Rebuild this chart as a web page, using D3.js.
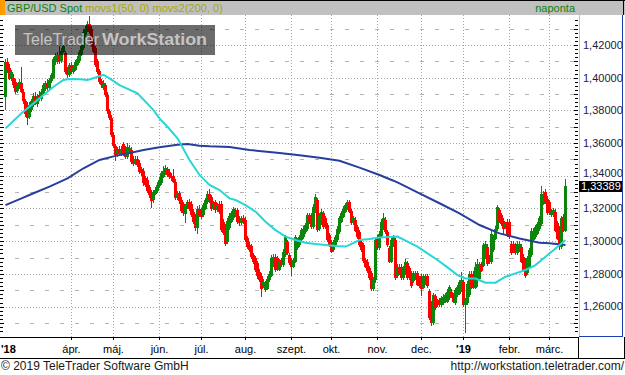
<!DOCTYPE html>
<html>
<head>
<meta charset="utf-8">
<script src="https://cdn.jsdelivr.net/npm/d3@7"></script>
<style>
  html, body { margin: 0; padding: 0; background: #fff; }
  svg { display: block; font-family: "Liberation Sans", Arial, sans-serif; }
</style>
</head>
<body>
<svg id="chart" width="625" height="375"></svg>
<script>
// daily GBP/USD candles, 14 Feb 2018 .. 13 Mar 2019 (weekdays)
var firstDay = '2018-02-14'

var open = [
  1.3880,1.4095,1.4060,1.3995,1.4000,1.3975,1.3920,1.3945,1.3970,1.3915,
  1.3855,1.3835,1.3760,1.3800,1.3835,1.3890,1.3840,1.3895,1.3870,1.3900,
  1.3930,1.3965,1.3935,1.3980,1.4000,1.4095,1.4095,1.4140,1.4100,1.4160,
  1.4150,1.4040,1.4015,1.4075,1.4035,1.4050,1.4080,1.4100,1.4140,1.4180,
  1.4260,1.4290,1.4330,1.4300,1.4220,1.4180,1.4100,1.4040,1.3980,1.3935,
  1.3955,1.3895,1.3795,1.3755,1.3650,1.3580,1.3535,1.3565,1.3535,1.3595,
  1.3565,1.3515,1.3555,1.3560,1.3505,1.3475,1.3505,1.3480,1.3440,1.3430,
  1.3385,1.3375,1.3330,1.3300,1.3250,1.3290,1.3305,1.3335,1.3355,1.3395,
  1.3415,1.3440,1.3425,1.3395,1.3400,1.3365,1.3265,1.3295,1.3255,1.3225,
  1.3165,1.3205,1.3240,1.3230,1.3180,1.3150,1.3080,1.3200,1.3190,1.3160,
  1.3200,1.3240,1.3290,1.3270,1.3200,1.3240,1.3190,1.3230,1.3230,1.3120,
  1.3090,1.2995,1.3080,1.3120,1.3140,1.3160,1.3190,1.3140,1.3110,1.3140,
  1.3130,1.3017,1.2977,1.2970,1.2915,1.2895,1.2865,1.2813,1.2790,1.2730,
  1.2700,1.2710,1.2760,1.2790,1.2850,1.2905,1.2895,1.2825,1.2885,1.2855,
  1.2915,1.2997,1.2915,1.2885,1.2845,1.2875,1.2957,1.2977,1.3007,1.3027,
  1.3057,1.3077,1.3160,1.3160,1.3087,1.3180,1.3250,1.3077,1.3110,1.3170,
  1.3140,1.3097,1.3037,1.2997,1.2947,1.2977,1.3007,1.3057,1.3120,1.3150,
  1.3180,1.3200,1.3240,1.3185,1.3110,1.3130,1.3085,1.3055,1.2997,1.2977,
  1.2885,1.2875,1.2835,1.2805,1.2705,1.2765,1.3027,1.2957,1.3030,1.3080,
  1.3130,1.3057,1.2957,1.2875,1.2977,1.3007,1.2785,1.2845,1.2845,1.2775,
  1.2805,1.2865,1.2835,1.2805,1.2755,1.2775,1.2805,1.2775,1.2785,1.2715,
  1.2745,1.2785,1.2695,1.2620,1.2500,1.2662,1.2630,1.2640,1.2610,1.2620,
  1.2630,1.2630,1.2650,1.2690,1.2670,1.2620,1.2670,1.2680,1.2700,1.2750,
  1.2610,1.2620,1.2670,1.2800,1.2800,1.2715,1.2760,1.2770,1.2860,1.2850,
  1.2900,1.2965,1.2900,1.2870,1.2945,1.3015,1.3075,1.3190,1.3160,1.3125,
  1.3085,1.3120,1.3120,1.2985,1.2985,1.2975,1.2925,1.2945,1.2965,1.2905,
  1.2885,1.2805,1.2845,1.2915,1.3005,1.3025,1.3045,1.3075,1.3105,1.3230,
  1.3300,1.3260,1.3240,1.3160,1.3160,1.3180,1.3110,1.3075,1.2965,1.3150,1.3065
]
var high = [
  1.4115,1.4120,1.4085,1.4050,1.4020,1.3990,1.3965,1.3995,1.4065,1.3930,
  1.3870,1.3850,1.3850,1.3870,1.3905,1.3915,1.3900,1.3920,1.3930,1.3970,
  1.3980,1.3990,1.4000,1.4030,1.4125,1.4150,1.4155,1.4195,1.4180,1.4215,
  1.4165,1.4065,1.4090,1.4095,1.4075,1.4110,1.4130,1.4170,1.4210,1.4295,
  1.4315,1.4345,1.4377,1.4315,1.4235,1.4195,1.4115,1.4055,1.3995,1.3985,
  1.3970,1.3910,1.3810,1.3770,1.3665,1.3595,1.3575,1.3580,1.3585,1.3605,
  1.3580,1.3598,1.3590,1.3575,1.3520,1.3520,1.3520,1.3495,1.3455,1.3445,
  1.3400,1.3390,1.3345,1.3315,1.3315,1.3330,1.3360,1.3390,1.3430,1.3460,
  1.3465,1.3455,1.3440,1.3415,1.3440,1.3380,1.3310,1.3310,1.3270,1.3240,
  1.3230,1.3255,1.3260,1.3245,1.3195,1.3165,1.3215,1.3220,1.3205,1.3235,
  1.3265,1.3305,1.3320,1.3285,1.3245,1.3255,1.3235,1.3245,1.3245,1.3135,
  1.3105,1.3140,1.3170,1.3185,1.3210,1.3205,1.3205,1.3155,1.3155,1.3160,
  1.3145,1.3030,1.2995,1.2985,1.2930,1.2910,1.2880,1.2830,1.2805,1.2770,
  1.2755,1.2785,1.2815,1.2915,1.2920,1.2920,1.2910,1.2890,1.2900,1.2950,
  1.3040,1.3010,1.2930,1.2900,1.2900,1.3040,1.3020,1.3040,1.3080,1.3090,
  1.3110,1.3175,1.3175,1.3175,1.3225,1.3290,1.3265,1.3175,1.3195,1.3185,
  1.3155,1.3110,1.3050,1.3010,1.3010,1.3040,1.3090,1.3155,1.3185,1.3215,
  1.3235,1.3255,1.3250,1.3200,1.3155,1.3145,1.3100,1.3070,1.3010,1.2990,
  1.2900,1.2890,1.2850,1.2820,1.2780,1.3020,1.3040,1.3060,1.3135,1.3170,
  1.3145,1.3070,1.2970,1.3020,1.3040,1.3020,1.2860,1.2860,1.2860,1.2850,
  1.2890,1.2880,1.2850,1.2820,1.2820,1.2820,1.2820,1.2790,1.2800,1.2800,
  1.2800,1.2800,1.2710,1.2635,1.2685,1.2675,1.2645,1.2655,1.2665,1.2675,
  1.2685,1.2705,1.2735,1.2705,1.2685,1.2715,1.2735,1.2765,1.2810,1.2765,
  1.2655,1.2755,1.2815,1.2815,1.2815,1.2870,1.2890,1.2875,1.2875,1.2990,
  1.3000,1.2980,1.2915,1.3060,1.3040,1.3090,1.3220,1.3205,1.3175,1.3140,
  1.3120,1.3135,1.3135,1.3000,1.3000,1.2990,1.3000,1.3000,1.2980,1.2920,
  1.2900,1.2910,1.2960,1.3080,1.3080,1.3100,1.3120,1.3155,1.3340,1.3305,
  1.3320,1.3275,1.3255,1.3195,1.3205,1.3195,1.3125,1.3090,1.3155,1.3165,1.3380
]
var low = [
  1.3800,1.4030,1.3985,1.3980,1.3940,1.3900,1.3905,1.3930,1.3905,1.3840,
  1.3760,1.3710,1.3745,1.3790,1.3820,1.3830,1.3820,1.3855,1.3860,1.3890,
  1.3920,1.3920,1.3925,1.3965,1.3990,1.4080,1.4085,1.4085,1.4090,1.4150,
  1.4020,1.4000,1.4005,1.4020,1.4020,1.4040,1.4070,1.4090,1.4130,1.4170,
  1.4250,1.4280,1.4270,1.4190,1.4150,1.4065,1.4025,1.3960,1.3940,1.3925,
  1.3880,1.3780,1.3740,1.3640,1.3570,1.3490,1.3515,1.3520,1.3520,1.3520,
  1.3500,1.3505,1.3545,1.3475,1.3460,1.3465,1.3455,1.3410,1.3400,1.3340,
  1.3330,1.3295,1.3265,1.3205,1.3235,1.3280,1.3295,1.3325,1.3345,1.3385,
  1.3405,1.3390,1.3380,1.3370,1.3355,1.3250,1.3250,1.3230,1.3170,1.3155,
  1.3110,1.3195,1.3185,1.3145,1.3105,1.3065,1.3045,1.3145,1.3135,1.3150,
  1.3190,1.3230,1.3235,1.3185,1.3190,1.3175,1.3180,1.3165,1.3055,1.3035,
  1.2970,1.2985,1.3070,1.3110,1.3130,1.3150,1.3105,1.3095,1.3100,1.3105,
  1.2995,1.2955,1.2935,1.2890,1.2860,1.2810,1.2770,1.2750,1.2660,1.2715,
  1.2690,1.2700,1.2750,1.2780,1.2840,1.2810,1.2815,1.2815,1.2845,1.2845,
  1.2905,1.2915,1.2855,1.2785,1.2835,1.2865,1.2945,1.2965,1.2995,1.3015,
  1.3045,1.3065,1.3105,1.3075,1.3075,1.3170,1.3055,1.3065,1.3100,1.3075,
  1.3075,1.2995,1.2965,1.2925,1.2935,1.2965,1.2995,1.3045,1.3110,1.3140,
  1.3170,1.3190,1.3170,1.3100,1.3100,1.3055,1.3015,1.2965,1.2935,1.2865,
  1.2835,1.2805,1.2765,1.2695,1.2695,1.2745,1.2945,1.2945,1.3020,1.3070,
  1.3045,1.2965,1.2865,1.2865,1.2965,1.2765,1.2775,1.2795,1.2765,1.2765,
  1.2795,1.2765,1.2765,1.2715,1.2745,1.2765,1.2725,1.2715,1.2665,1.2705,
  1.2735,1.2715,1.2520,1.2480,1.2490,1.2580,1.2600,1.2600,1.2600,1.2610,
  1.2620,1.2620,1.2640,1.2650,1.2620,1.2610,1.2660,1.2670,1.2690,1.2600,
  1.2438,1.2610,1.2660,1.2705,1.2710,1.2705,1.2720,1.2760,1.2810,1.2840,
  1.2890,1.2850,1.2860,1.2860,1.2935,1.3005,1.3065,1.3110,1.3095,1.3040,
  1.3075,1.3025,1.3015,1.2915,1.2925,1.2915,1.2915,1.2935,1.2865,1.2815,
  1.2775,1.2795,1.2835,1.2905,1.2995,1.3015,1.3035,1.3065,1.3095,1.3220,
  1.3230,1.3160,1.3160,1.3150,1.3150,1.3055,1.3005,1.2945,1.2955,1.3055,1.3055
]
var close = [
  1.4095,1.4045,1.3995,1.4035,1.3955,1.3915,1.3950,1.3975,1.3915,1.3855,
  1.3775,1.3755,1.3835,1.3855,1.3890,1.3840,1.3890,1.3870,1.3915,1.3955,
  1.3965,1.3935,1.3985,1.4015,1.4115,1.4135,1.4140,1.4100,1.4165,1.4195,
  1.4035,1.4015,1.4075,1.4035,1.4060,1.4095,1.4115,1.4155,1.4195,1.4280,
  1.4300,1.4330,1.4280,1.4200,1.4160,1.4075,1.4035,1.3975,1.3955,1.3965,
  1.3895,1.3795,1.3755,1.3650,1.3580,1.3530,1.3555,1.3535,1.3565,1.3535,
  1.3515,1.3575,1.3570,1.3485,1.3475,1.3505,1.3465,1.3425,1.3415,1.3355,
  1.3345,1.3310,1.3280,1.3245,1.3300,1.3315,1.3345,1.3375,1.3415,1.3430,
  1.3450,1.3405,1.3395,1.3385,1.3365,1.3265,1.3295,1.3245,1.3185,1.3170,
  1.3215,1.3240,1.3200,1.3160,1.3120,1.3080,1.3200,1.3160,1.3150,1.3220,
  1.3250,1.3290,1.3250,1.3200,1.3230,1.3190,1.3220,1.3180,1.3070,1.3048,
  1.2985,1.3125,1.3155,1.3170,1.3200,1.3190,1.3120,1.3110,1.3140,1.3120,
  1.3007,1.2967,1.2947,1.2905,1.2875,1.2825,1.2785,1.2763,1.2710,1.2750,
  1.2740,1.2770,1.2800,1.2900,1.2905,1.2825,1.2825,1.2875,1.2855,1.2935,
  1.3027,1.2925,1.2865,1.2845,1.2885,1.3027,1.3007,1.3027,1.3067,1.3077,
  1.3097,1.3160,1.3120,1.3087,1.3210,1.3270,1.3067,1.3160,1.3180,1.3087,
  1.3087,1.3007,1.2977,1.2937,1.2997,1.3027,1.3077,1.3140,1.3170,1.3200,
  1.3220,1.3240,1.3180,1.3110,1.3140,1.3065,1.3025,1.2977,1.2947,1.2877,
  1.2845,1.2815,1.2775,1.2705,1.2765,1.3007,1.2957,1.3047,1.3120,1.3140,
  1.3057,1.2977,1.2875,1.3007,1.3027,1.2775,1.2845,1.2805,1.2775,1.2835,
  1.2875,1.2775,1.2775,1.2725,1.2805,1.2805,1.2735,1.2725,1.2705,1.2785,
  1.2785,1.2725,1.2530,1.2500,1.2672,1.2590,1.2610,1.2610,1.2650,1.2660,
  1.2670,1.2690,1.2720,1.2660,1.2630,1.2700,1.2720,1.2750,1.2760,1.2610,
  1.2640,1.2740,1.2800,1.2715,1.2720,1.2840,1.2860,1.2860,1.2820,1.2975,
  1.2985,1.2860,1.2870,1.3045,1.3025,1.3075,1.3210,1.3120,1.3105,1.3075,
  1.3105,1.3035,1.3025,1.2925,1.2935,1.2925,1.2985,1.2985,1.2875,1.2825,
  1.2785,1.2895,1.2945,1.3065,1.3065,1.3085,1.3105,1.3140,1.3290,1.3290,
  1.3240,1.3170,1.3170,1.3180,1.3190,1.3065,1.3015,1.2965,1.3140,1.3065,1.33389
]

// movs1(50) and movs2(200), read at candle positions
var ma50At = [0, 8, 14, 19, 24, 29, 32, 37, 41, 45, 49, 52, 57, 66, 74, 77, 81, 86, 92, 97,
  102, 107, 112, 115, 120, 125, 130, 135, 140, 145, 150, 155, 160, 165, 170, 172, 177, 182,
  187, 196, 201, 206, 211, 216, 221, 226, 230, 235, 240, 245, 250, 255, 260, 265, 270, 275, 279, 280]
var ma50 = [1.3690, 1.3782, 1.3843, 1.3894, 1.3945, 1.3986, 1.3992, 1.3990, 1.3986, 1.4001,
  1.4017, 1.3996, 1.3955, 1.3904, 1.3802, 1.3751, 1.3700, 1.3629, 1.3497, 1.3405,
  1.3344, 1.3313, 1.3262, 1.3252, 1.3221, 1.3181, 1.3119, 1.3068, 1.3028, 1.3007,
  1.2991, 1.2983, 1.2977, 1.2971, 1.2967, 1.2977, 1.3007, 1.3013, 1.3023, 1.3028,
  1.2997, 1.2967, 1.2926, 1.2885, 1.2840, 1.2793, 1.2772, 1.2772, 1.2746, 1.2746,
  1.2783, 1.2803, 1.2824, 1.2854, 1.2905, 1.2956, 1.2997, 1.3007]

var ma200At = [0, 8, 14, 22, 31, 39, 47, 55, 61, 69, 77, 86, 91, 97, 102, 112, 122, 137,
  147, 157, 167, 177, 187, 194, 197, 207, 217, 227, 237, 247, 257, 267, 272, 280]
var ma200 = [1.3221, 1.3262, 1.3293, 1.3334, 1.3384, 1.3446, 1.3497, 1.3522, 1.3537, 1.3558,
  1.3574, 1.3590, 1.3594, 1.3584, 1.3580, 1.3576, 1.3558, 1.3540, 1.3525, 1.3510,
  1.3492, 1.3450, 1.3405, 1.3370, 1.3354, 1.3293, 1.3232, 1.3170, 1.3099, 1.3048,
  1.3017, 1.2991, 1.2987, 1.2977]

var monthNames = ['ápr.', 'máj.', 'jún.', 'júl.', 'aug.', 'szept.', 'okt.', 'nov.', 'dec.', "'19", 'febr.', 'márc.']
var monthStarts = ['2018-04-01', '2018-05-01', '2018-06-01', '2018-07-01', '2018-08-01', '2018-09-01',
  '2018-10-01', '2018-11-01', '2018-12-01', '2019-01-01', '2019-02-01', '2019-03-01']
var yTicks = [1.26, 1.28, 1.30, 1.32, 1.34, 1.36, 1.38, 1.40, 1.42]

var parse = d3.timeParse('%Y-%m-%d')
var dates = d3.timeDay
  .range(parse(firstDay), d3.timeDay.offset(parse(firstDay), 400))
  .filter(function (d) { return d.getDay() !== 0 && d.getDay() !== 6 })
  .slice(0, close.length)

var candles = close.map(function (c, i) {
  return { i: i, o: open[i], h: high[i], l: low[i], c: c }
})

var W = 625
var plotL = 0, plotR = 578, plotT = 15, plotB = 337

var x = d3.scaleLinear().domain([0, close.length - 1]).range([5, 5 + 2 * (close.length - 1)])
var y = d3.scaleLinear().domain([1.26, 1.42]).range([306.6, 45])

var svg = d3.select('#chart')

svg.append('defs').append('clipPath').attr('id', 'plotclip')
  .append('rect').attr('x', plotL).attr('y', plotT).attr('width', plotR - plotL).attr('height', plotB - plotT)

// header bar
svg.append('rect').attr('x', 0).attr('y', 0).attr('width', W).attr('height', 15).attr('fill', '#c0c0c0')
svg.append('rect').attr('x', 0).attr('y', 0).attr('width', 5).attr('height', 15).attr('fill', '#ff9a00')
svg.append('line').attr('x1', 5).attr('x2', W).attr('y1', 0.5).attr('y2', 0.5).attr('stroke', '#000')

var title = svg.append('text').attr('x', 7).attr('y', 12).style('font-size', '11px')
title.append('tspan').attr('fill', '#0a820a').text('GBP/USD Spot ')
title.append('tspan').attr('fill', '#a9a900').text('movs1(50, 0) movs2(200, 0)')
svg.append('text').attr('x', 575).attr('y', 12).attr('text-anchor', 'end')
  .style('font-size', '11px').attr('fill', '#0a820a').text('naponta')

var plot = svg.append('g').attr('clip-path', 'url(#plotclip)')

// horizontal grid
var minorLevels = d3.range(125, 144, 2).map(function (v) { return v / 100 })
plot.selectAll('.hgrid2').data(minorLevels).join('line')
  .attr('x1', plotL).attr('x2', plotR)
  .attr('y1', function (d) { return Math.round(y(d)) + 0.5 })
  .attr('y2', function (d) { return Math.round(y(d)) + 0.5 })
  .attr('stroke', '#b4b4b4').attr('stroke-dasharray', '4,11')
plot.selectAll('.hgrid').data(yTicks).join('line')
  .attr('x1', plotL).attr('x2', plotR)
  .attr('y1', function (d) { return Math.round(y(d)) + 0.5 })
  .attr('y2', function (d) { return Math.round(y(d)) + 0.5 })
  .attr('stroke', '#a8a8a8').attr('stroke-dasharray', '1,2')

// month positions
var monthIdx = monthStarts.map(function (s) {
  var t = parse(s)
  return d3.bisectLeft(dates, t)
})
plot.selectAll('.vgrid').data(monthIdx).join('line')
  .attr('x1', function (d) { return x(d) + 0.5 })
  .attr('x2', function (d) { return x(d) + 0.5 })
  .attr('y1', plotT).attr('y2', plotB)
  .attr('stroke', '#a8a8a8').attr('stroke-dasharray', '1,2')

// candles
var candleColor = function (d) { return d.c >= d.o ? '#0b860b' : '#ff0000' }
var cg = plot.append('g').attr('shape-rendering', 'crispEdges')
cg.selectAll('.wick').data(candles).join('rect')
  .attr('x', function (d) { return x(d.i) })
  .attr('width', 1)
  .attr('y', function (d) { return y(d.h) })
  .attr('height', function (d) { return Math.max(1, y(d.l) - y(d.h)) })
  .attr('fill', candleColor)
cg.selectAll('.body').data(candles).join('rect')
  .attr('x', function (d) { return x(d.i) - 1 })
  .attr('width', 3)
  .attr('y', function (d) { return y(Math.max(d.o, d.c)) })
  .attr('height', function (d) { return Math.max(1, Math.abs(y(d.o) - y(d.c))) })
  .attr('fill', candleColor)

// moving averages
var line = d3.line()
  .x(function (d) { return x(d[0]) + 0.5 })
  .y(function (d) { return y(d[1]) })
plot.append('path')
  .datum(ma200At.map(function (v, k) { return [v, ma200[k]] }))
  .attr('d', line).attr('fill', 'none').attr('stroke', '#263f9c').attr('stroke-width', 2)
plot.append('path')
  .datum(ma50At.map(function (v, k) { return [v, ma50[k]] }))
  .attr('d', line).attr('fill', 'none').attr('stroke', '#27d6d6').attr('stroke-width', 2)

// watermark
svg.append('rect').attr('x', 15).attr('y', 25).attr('width', 200).attr('height', 30)
  .attr('fill', '#000').attr('opacity', 0.58)
svg.append('text').attr('x', 23).attr('y', 45).attr('textLength', 76).attr('lengthAdjust', 'spacingAndGlyphs')
  .style('font-size', '17px').attr('fill', '#c4c4c4').text('TeleTrader')
svg.append('text').attr('x', 102).attr('y', 45).attr('textLength', 105).attr('lengthAdjust', 'spacingAndGlyphs')
  .style('font-size', '17px').style('font-weight', 'bold').attr('fill', '#c4c4c4').text('WorkStation')

// left / right tick marks
var tickLevels = d3.range(0, 77).map(function (k) { return 1.245 + k * 0.0025 })
  .filter(function (v) { return y(v) > plotT && y(v) < plotB })
svg.selectAll('.rtick').data(tickLevels).join('line')
  .attr('x1', function (d) { return Math.abs(d * 100 - Math.round(d * 100)) < 1e-6 ? 574 : 575 })
  .attr('x2', 578)
  .attr('y1', function (d) { return Math.round(y(d)) + 0.5 })
  .attr('y2', function (d) { return Math.round(y(d)) + 0.5 })
  .attr('stroke', '#000')
svg.selectAll('.ltick').data(tickLevels).join('line')
  .attr('x1', 0)
  .attr('x2', function (d) { return Math.abs(d * 100 - Math.round(d * 100)) < 1e-6 ? 4 : 3 })
  .attr('y1', function (d) { return Math.round(y(d)) + 0.5 })
  .attr('y2', function (d) { return Math.round(y(d)) + 0.5 })
  .attr('stroke', '#000')

// right axis panel
svg.append('line').attr('x1', 579.5).attr('x2', 579.5).attr('y1', 15).attr('y2', plotB)
  .attr('stroke', '#e2c467')
svg.append('line').attr('x1', 622.5).attr('x2', 622.5).attr('y1', 15).attr('y2', plotB)
  .attr('stroke', '#1d3db3')
svg.append('line').attr('x1', 579).attr('x2', 623).attr('y1', plotB - 0.5).attr('y2', plotB - 0.5)
  .attr('stroke', '#1d3db3')
svg.append('line').attr('x1', 623.5).attr('x2', 623.5).attr('y1', 0).attr('y2', 15)
  .attr('stroke', '#000')

var last = close[close.length - 1]
var lastY = y(last)
var fmt = function (v) { return d3.format('.5f')(v).replace('.', ',') }
svg.selectAll('.ylab').data(yTicks).join('text')
  .attr('x', 583)
  .attr('y', function (d) {
    var p = y(d)
    return Math.abs(p - lastY) < 13 ? (p < lastY ? lastY - 13 : lastY + 13) : p
  })
  .attr('dy', '0.35em')
  .style('font-size', '11px').attr('fill', '#1b1b3c').text(fmt)

svg.append('rect').attr('x', 579).attr('y', Math.round(lastY) - 5).attr('width', 43).attr('height', 11)
  .attr('fill', '#000')
svg.append('text').attr('x', 581).attr('y', lastY).attr('dy', '0.35em')
  .style('font-size', '11px').attr('fill', '#fff').text(fmt(last))

// x axis band
svg.append('line').attr('x1', 0).attr('x2', plotR + 1).attr('y1', plotB + 0.5).attr('y2', plotB + 0.5).attr('stroke', '#000')
svg.append('line').attr('x1', 0).attr('x2', W).attr('y1', 358.5).attr('y2', 358.5).attr('stroke', '#000')
svg.append('line').attr('x1', plotR + 0.5).attr('x2', plotR + 0.5).attr('y1', plotB).attr('y2', 358).attr('stroke', '#000')
svg.append('line').attr('x1', 624.5).attr('x2', 624.5).attr('y1', plotB).attr('y2', 358).attr('stroke', '#000')

svg.selectAll('.xtick').data(monthIdx).join('line')
  .attr('x1', function (d) { return x(d) + 0.5 })
  .attr('x2', function (d) { return x(d) + 0.5 })
  .attr('y1', plotB + 1).attr('y2', plotB + 3)
  .attr('stroke', '#000')

svg.append('text').attr('x', 1).attr('y', 353).style('font-size', '11px').style('font-weight', 'bold')
  .attr('fill', '#000').text("'18")
svg.selectAll('.xlab').data(monthIdx).join('text')
  .attr('x', function (d) { return x(d) + 0.5 })
  .attr('y', 353)
  .attr('text-anchor', 'middle')
  .style('font-size', '11px')
  .style('font-weight', function (d, k) { return monthNames[k].charAt(0) === "'" ? 'bold' : 'normal' })
  .attr('fill', '#000')
  .text(function (d, k) { return monthNames[k] })

// footer
svg.append('text').attr('x', 1).attr('y', 370).style('font-size', '12px').attr('fill', '#1a1a1a')
  .text('© 2019 TeleTrader Software GmbH')
svg.append('text').attr('x', 624).attr('y', 370).attr('text-anchor', 'end').style('font-size', '12px')
  .attr('fill', '#1a1a1a').text('http://workstation.teletrader.com/')
</script>
</body>
</html>
